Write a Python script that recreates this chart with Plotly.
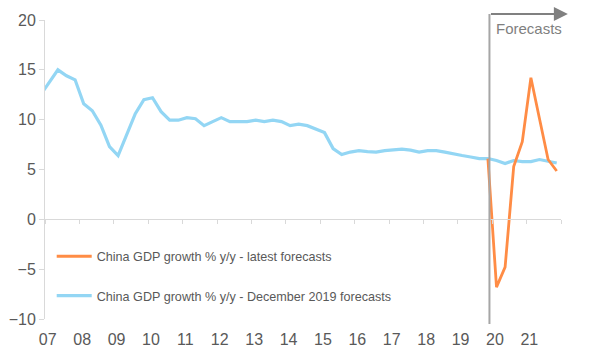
import plotly.graph_objects as go

# ---- data ----
# quarters from 2006Q4 (clipped at axis start) to 2021Q4
quarters = ["2006Q4"] + [f"{y}Q{q}" for y in range(2007, 2022) for q in range(1, 5)]
dec2019_forecast = [
    12.5,
    13.7, 15.0, 14.4, 14.0,   # 2007
    11.6, 10.9, 9.45, 7.3,    # 2008
    6.4, 8.6, 10.6, 12.0,     # 2009
    12.2, 10.8, 9.95, 9.95,   # 2010
    10.2, 10.1, 9.4, 9.8,     # 2011
    10.2, 9.8, 9.8, 9.8,      # 2012
    9.95, 9.8, 9.95, 9.8,     # 2013
    9.4, 9.55, 9.4, 9.05,     # 2014
    8.7, 7.1, 6.5, 6.75,      # 2015
    6.9, 6.8, 6.75, 6.9,      # 2016
    7.0, 7.05, 6.95, 6.75,    # 2017
    6.9, 6.9, 6.75, 6.55,     # 2018
    6.4, 6.25, 6.1, 6.1,      # 2019
    5.9, 5.6, 5.9, 5.8,       # 2020
    5.8, 6.0, 5.8, 5.65,      # 2021
]
latest_quarters = ["2019Q4", "2020Q1", "2020Q2", "2020Q3", "2020Q4",
                   "2021Q1", "2021Q2", "2021Q3", "2021Q4"]
latest_forecast = [6.1, -6.8, -4.8, 5.3, 7.8, 14.2, 10.1, 6.0, 4.85]

years = list(range(2007, 2022))
year_labels = [f"{y % 100:02d}" for y in years]
forecast_start = 2019.92

name_latest = "China GDP growth % y/y - latest forecasts"
name_dec = "China GDP growth % y/y - December 2019 forecasts"


def qpos(q):
    y, n = q.split("Q")
    return int(y) + (int(n) - 1) / 4 + 0.125


BLUE = "#93d6f4"
ORANGE = "#ff8c45"
GRID = "#d9d9d9"
TXT = "#595959"
FONT = "Liberation Sans, Arial, sans-serif"

fig = go.Figure()
fig.add_trace(go.Scatter(
    x=[qpos(q) for q in quarters], y=dec2019_forecast, mode="lines",
    name=name_dec, line=dict(color=BLUE, width=3.2),
    legendgroup="b", legendrank=2))
fig.add_trace(go.Scatter(
    x=[qpos(q) for q in latest_quarters], y=latest_forecast, mode="lines",
    name=name_latest, line=dict(color=ORANGE, width=2.8),
    legendgroup="a", legendrank=1))

# dummy trace on xaxis2 for labels
fig.add_trace(go.Scatter(x=[2007, 2022], y=[None, None], xaxis="x2",
                         showlegend=False, hoverinfo="skip"))

fig.update_layout(
    width=593, height=362,
    margin=dict(l=45, r=32, t=20, b=43, autoexpand=False),
    plot_bgcolor="white", paper_bgcolor="white",
    font=dict(family=FONT, color=TXT, size=12.6),
    showlegend=True,
    legend=dict(x=0.013, y=0.259, xanchor="left", yanchor="top",
                traceorder="grouped", tracegroupgap=20,
                font=dict(size=12.6, color=TXT), bgcolor="rgba(0,0,0,0)",
                itemwidth=35),
    xaxis=dict(range=[2007, 2022], anchor="free", position=1/3,
               tickvals=list(range(2007, 2023)), showticklabels=False,
               ticks="outside", ticklen=4, tickcolor=GRID,
               showline=True, linecolor=GRID, linewidth=1,
               showgrid=False, zeroline=False, automargin=False),
    xaxis2=dict(range=[2007, 2022], overlaying="x", anchor="y",
                tickvals=[y + 0.08 for y in years], ticktext=year_labels,
                ticks="", showline=False, showgrid=False, zeroline=False,
                ticklabelstandoff=9,
                tickfont=dict(size=16, color=TXT), automargin=False),
    yaxis=dict(range=[-10, 20], tickvals=[-10, -5, 0, 5, 10, 15, 20],
               ticks="outside", ticklen=5, tickcolor=GRID,
               showline=True, linecolor=GRID, linewidth=1,
               showgrid=False, zeroline=False, automargin=False,
               tickfont=dict(size=16, color=TXT)),
)

# forecast marker
fig.add_shape(type="line", xref="x", yref="paper",
              x0=forecast_start, x1=forecast_start, y0=-0.017, y1=1.02,
              line=dict(color="#a6a6a6", width=2))
fig.add_annotation(xref="x", yref="paper", axref="x", ayref="pixel",
                   x=2022.2, y=1.02, ax=forecast_start, ay=0,
                   showarrow=True, arrowhead=2, arrowsize=1.4, arrowwidth=2,
                   arrowcolor="#808080", text="")
fig.add_annotation(xref="x", yref="paper", x=2020.04, y=0.97,
                   xanchor="left", yanchor="middle", showarrow=False,
                   text="Forecasts", font=dict(size=15, color="#7f7f7f"))

fig.write_html("out.html", config={"displayModeBar": False},
               post_script="document.body.style.margin='0';"
                           "document.body.style.overflow='hidden';")
